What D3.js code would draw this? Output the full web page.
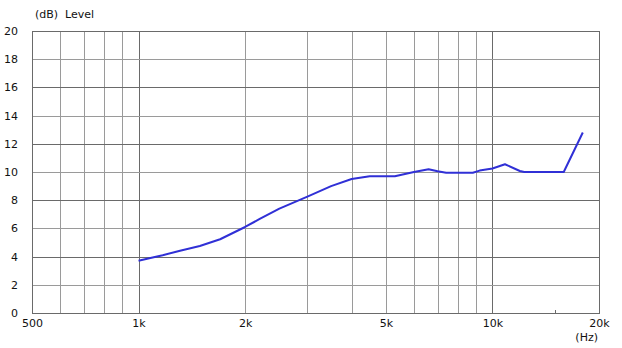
<!DOCTYPE html>
<html>
<head>
<meta charset="utf-8">
<script src="https://cdn.jsdelivr.net/npm/d3@7"></script>
<style>
  body { margin: 0; background: #fff; }
  text { font-family: "DejaVu Sans", Verdana, sans-serif; font-size: 11px; fill: #111; }
</style>
</head>
<body>
<div id="chart"></div>
<script>
// frequency response
const freqs = [1000, 1080, 1170, 1310, 1490, 1700, 2000, 2200, 2500, 3000, 3500, 4000, 4500, 5300,
               6000, 6600, 7000, 7400, 8800, 9200, 10000, 10850, 11950, 12300, 15900, 18000];
const levels = [3.7, 3.9, 4.1, 4.42, 4.75, 5.23, 6.1, 6.67, 7.4, 8.25, 9.0, 9.5, 9.7, 9.7,
                10.0, 10.2, 10.05, 9.95, 9.95, 10.1, 10.25, 10.55, 10.07, 10.0, 10.0, 12.8];

const xLabels = [500, 1000, 2000, 5000, 10000, 20000];
const xMinor = [600, 700, 800, 900, 2000, 3000, 4000, 5000, 6000, 7000, 8000, 9000];
const xMajor = [1000, 10000];
const yTicks = [0, 2, 4, 6, 8, 10, 12, 14, 16, 18, 20];

const width = 622, height = 348;
const margin = { top: 31, right: 23, bottom: 35, left: 32 };
const w = width - margin.left - margin.right;
const h = height - margin.top - margin.bottom;

const svg = d3.select('#chart').append('svg')
    .attr('width', width)
    .attr('height', height);

const g = svg.append('g')
    .attr('transform', `translate(${margin.left},${margin.top})`);

const x = d3.scaleLog().domain([500, 20000]).range([0, w]);
const y = d3.scaleLinear().domain([0, 20]).range([h, 0]);

const light = '#9a9a9a', dark = '#6a6a6a';

// vertical grid
function vgrid(vals, color) {
    g.append('g')
        .attr('transform', `translate(0,${h})`)
        .call(d3.axisBottom(x).tickValues(vals).tickSize(-h).tickFormat(''))
        .call(a => a.select('.domain').remove())
        .call(a => a.selectAll('line').attr('stroke', color).attr('shape-rendering', 'crispEdges'));
}
vgrid(xMinor, light);
vgrid(xMajor, dark);

// horizontal grid, every 4 dB darker
g.append('g')
    .call(d3.axisLeft(y).tickValues(yTicks).tickSize(-w).tickFormat(''))
    .call(a => a.select('.domain').remove())
    .call(a => a.selectAll('line')
        .attr('stroke', d => d % 4 === 0 ? dark : light)
        .attr('shape-rendering', 'crispEdges'));

// small tick at 15k on the bottom
g.append('g')
    .attr('transform', `translate(0,${h})`)
    .call(d3.axisBottom(x).tickValues([15000]).tickSize(-3).tickFormat(''))
    .call(a => a.select('.domain').remove())
    .call(a => a.selectAll('line').attr('stroke', dark).attr('shape-rendering', 'crispEdges'));

// frame
g.append('rect')
    .attr('x', 0.5).attr('y', 0.5)
    .attr('width', w).attr('height', h)
    .attr('fill', 'none')
    .attr('stroke', dark)
    .attr('shape-rendering', 'crispEdges');

// axis labels
g.append('g')
    .call(d3.axisLeft(y).tickValues(yTicks).tickSize(0).tickPadding(14))
    .call(a => a.select('.domain').remove())
    .call(a => a.selectAll('text').style('font-size', '11px').style('font-family', '"DejaVu Sans"').attr('fill', '#111'));

g.append('g')
    .attr('transform', `translate(0,${h})`)
    .call(d3.axisBottom(x).tickValues(xLabels).tickSize(0).tickPadding(6)
        .tickFormat(d => d >= 1000 ? (d / 1000) + 'k' : d))
    .call(a => a.select('.domain').remove())
    .call(a => a.selectAll('text').style('font-size', '11px').style('font-family', '"DejaVu Sans"').attr('fill', '#111'));

svg.append('text')
    .attr('x', 35).attr('y', 18)
    .attr('xml:space', 'preserve')
    .text('(dB)  Level');

svg.append('text')
    .attr('x', 598).attr('y', 341)
    .attr('text-anchor', 'end')
    .text('(Hz)');

// response curve
const line = d3.line()
    .x((d, i) => x(freqs[i]))
    .y(d => y(d));

g.append('path')
    .datum(levels)
    .attr('fill', 'none')
    .attr('stroke', '#3030d6')
    .attr('stroke-width', 2)
    .attr('stroke-linejoin', 'round')
    .attr('d', line);
</script>
</body>
</html>
